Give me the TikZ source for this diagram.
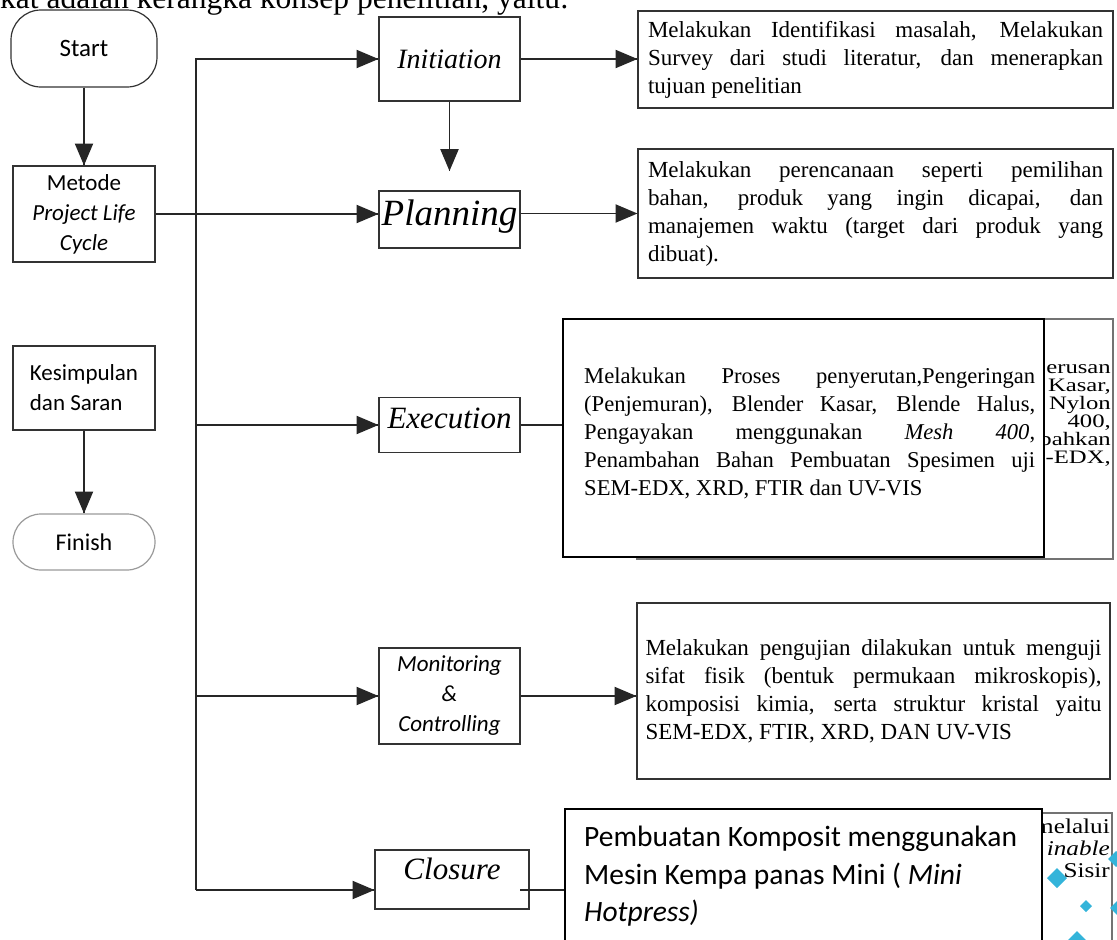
\documentclass[tikz,border=0pt]{standalone}
\usepackage{fontspec}
\usepackage{graphicx}
\setmainfont{Liberation Serif}
\newfontfamily\calibri{Carlito}
\usetikzlibrary{arrows}
\usetikzlibrary{decorations.markings}
\definecolor{diam}{RGB}{52,180,218}
\newcommand{\wide}[2][1.3]{\scalebox{#1}[1]{#2}}
\tikzset{tip/.style = {decoration={markings,
                                   mark=at position 1 with {\arrow[scale=2.3]{triangle 45}}},
                       postaction={decorate}}}
\tikzset{link/.style = {draw=black!85, line width=1.2pt}}
\tikzset{term/.style = {draw=black!80, line width=1.2pt, inner sep=0, minimum width=146,
                        font=\calibri\fontsize{25}{30}\selectfont}}
\tikzset{cbox/.style = {draw=black!80, line width=1.2pt, inner sep=0, align=center,
                        font=\calibri\fontsize{23}{30}\selectfont}}
\tikzset{phase/.style = {draw=black!80, line width=1.2pt, inner sep=0, minimum width=141}}
\tikzset{desc/.style = {draw=black!80, line width=1.2pt, inner sep=10, text width=455,
                        align=justify, font=\fontsize{23}{28}\selectfont}}
\tikzset{back/.style = {draw=black!55, line width=1.2pt, inner sep=0}}
\tikzset{frag/.style = {inner sep=0, align=right, font=\fontsize{19}{18}\selectfont}}
\tikzset{over/.style = {draw=black, fill=white, line width=1.5pt, inner sep=0}}

\begin{document}
\begin{tikzpicture}[x=1pt, y=-1pt]
  \useasboundingbox (0,0) rectangle (1117,940);

  \node [anchor=base west, inner sep=0, font=\fontsize{31.5}{32}\selectfont] (intro) at (0,8)
        {kat adalah kerangka konsep penelitian, yaitu:};

  % left column
  \node [term, minimum height=77, rounded corners=30] (start) at (84,48.5) {Start};
  \node [cbox, minimum width=142, minimum height=96] (metode) at (84,214)
        {Metode\\\textit{Project Life}\\\textit{Cycle}};
  \node [cbox, align=left, minimum width=142, minimum height=84] (kes) at (84,388)
        {Kesimpulan\\dan Saran};
  \node [term, draw=black!40, minimum width=142, minimum height=56, rounded corners=28,
         font=\calibri\fontsize{24}{30}\selectfont] (finish) at (84,542) {Finish};

  % phases
  \node [phase, minimum height=84, font=\fontsize{28}{30}\selectfont\itshape] (init)
        at (449.5,59) {Initiation};
  \node [phase, minimum height=57, text height=28, text depth=17,
         font=\fontsize{37}{37}\selectfont\itshape] (plan) at (449.5,219.5) {Planning};
  \node [phase, minimum height=55, text height=20, text depth=12.5,
         font=\fontsize{31}{31}\selectfont\itshape] (exec) at (449.5,425) {Execution};
  \node [cbox, minimum width=141, minimum height=96] (mon) at (449.5,696)
        {\textit{Monitoring}\\\textit{\&}\\\textit{Controlling}};
  \node [phase, minimum width=154, minimum height=59, text height=22, text depth=22,
         font=\fontsize{31}{31}\selectfont\itshape] (clo) at (452,879.5) {Closure};

  % descriptions
  \node [desc, minimum height=95] (initTxt) at (875.5,59.5)
        {Melakukan Identifikasi masalah, Melakukan\linebreak
         Survey dari studi literatur, dan menerapkan\linebreak
         tujuan penelitian};
  \node [desc, minimum height=129] (planTxt) at (875.5,213.5)
        {Melakukan perencanaan seperti pemilihan\linebreak
         bahan, produk yang ingin dicapai, dan\linebreak
         manajemen waktu (target dari produk yang\linebreak
         dibuat).};
  \node [back, minimum width=476, minimum height=240] (exBack) at (875,439) {};
  \node [frag, anchor=north east] (exFrag) at (1111,364)
        {\wide{erusan}\\\wide{Kasar,}\\\wide{Nylon}\\\wide{400,}\\\wide{bahkan}\\\wide{-EDX,}};
  \node [desc, text width=456, inner sep=8.5, minimum height=176] (monTxt) at (873.5,691)
        {Melakukan pengujian dilakukan untuk menguji\linebreak
         sifat fisik (bentuk permukaan mikroskopis),\linebreak
         komposisi kimia, serta struktur kristal yaitu\linebreak
         SEM-EDX, FTIR, XRD, DAN UV-VIS};
  \node [back, minimum width=70, minimum height=132] (cloBack) at (1077,879) {};
  \fill [diam] (1057,878) +(0,-10) -- +(10,0) -- +(0,10) -- +(-10,0) -- cycle;
  \fill [diam] (1086,906) +(0,-6) -- +(6,0) -- +(0,6) -- +(-6,0) -- cycle;
  \fill [diam] (1116,859) +(0,-8) -- +(8,0) -- +(0,8) -- +(-8,0) -- cycle;
  \fill [diam] (1117,908) +(0,-7) -- +(7,0) -- +(0,7) -- +(-7,0) -- cycle;
  \fill [diam] (1077,940) +(0,-9) -- +(9,0) -- +(0,9) -- +(-9,0) -- cycle;
  \node [frag, anchor=north east, font=\fontsize{21}{22}\selectfont] (cloFrag) at (1110,819)
        {\wide[1.2]{melalui}\\\wide[1.2]{\textit{inable}}\\\wide[1.2]{Sisir}};

  % connectors
  \coordinate (tTop) at (196,59);
  \coordinate (tBot) at (196,890);
  \coordinate (initEnd) at (449.5,171);
  \coordinate (cloOut) at (520,890);

  \draw [link, tip] (start) -- (metode);
  \draw [link, tip] (kes) -- (finish);
  \draw [link, tip] (tBot) -- (tTop) -- (init);
  \draw [link, tip] (metode.east) -- (metode.east -| plan.west);
  \draw [link, tip] (tTop |- exec.west) -- (exec.west);
  \draw [link, tip] (tTop |- mon.west) -- (mon.west);
  \draw [link, tip] (tBot) -- (tBot -| clo.west);
  \draw [link, tip] (init) -- (initEnd);
  \draw [link, tip] (init.east) -- (init.east -| initTxt.west);
  \draw [link, tip] (plan.east |- planTxt.west) -- (planTxt.west);
  \draw [link, tip] (exec.east) -- (exec.east -| exBack.west);
  \draw [link, tip] (mon.east) -- (mon.east -| monTxt.west);
  \draw [link] (cloOut) -- (cloOut -| cloBack.west);

  % pasted boxes on top
  \node [over, minimum width=481, minimum height=238] (exOv) at (803.5,438) {};
  \node [anchor=north west, inner sep=0, text width=451, align=justify,
         font=\fontsize{22.6}{28}\selectfont] (exTxt) at (584,367.5)
        {Melakukan Proses penyerutan,Pengeringan\linebreak
         (Penjemuran), Blender Kasar, Blende Halus,\linebreak
         Pengayakan menggunakan \textit{Mesh 400},\linebreak
         Penambahan Bahan Pembuatan Spesimen uji\linebreak
         SEM-EDX, XRD, FTIR dan UV-VIS};
  \node [over, minimum width=477, minimum height=136] (cloOv) at (803.5,877) {};
  \node [anchor=north west, inner sep=0, align=left,
         font=\calibri\fontsize{29.5}{37.5}\selectfont] (cloTxt) at (584,826)
        {Pembuatan Komposit menggunakan\\
         Mesin Kempa panas Mini ( \textit{Mini}\\
         \textit{Hotpress)}};
\end{tikzpicture}
\end{document}
